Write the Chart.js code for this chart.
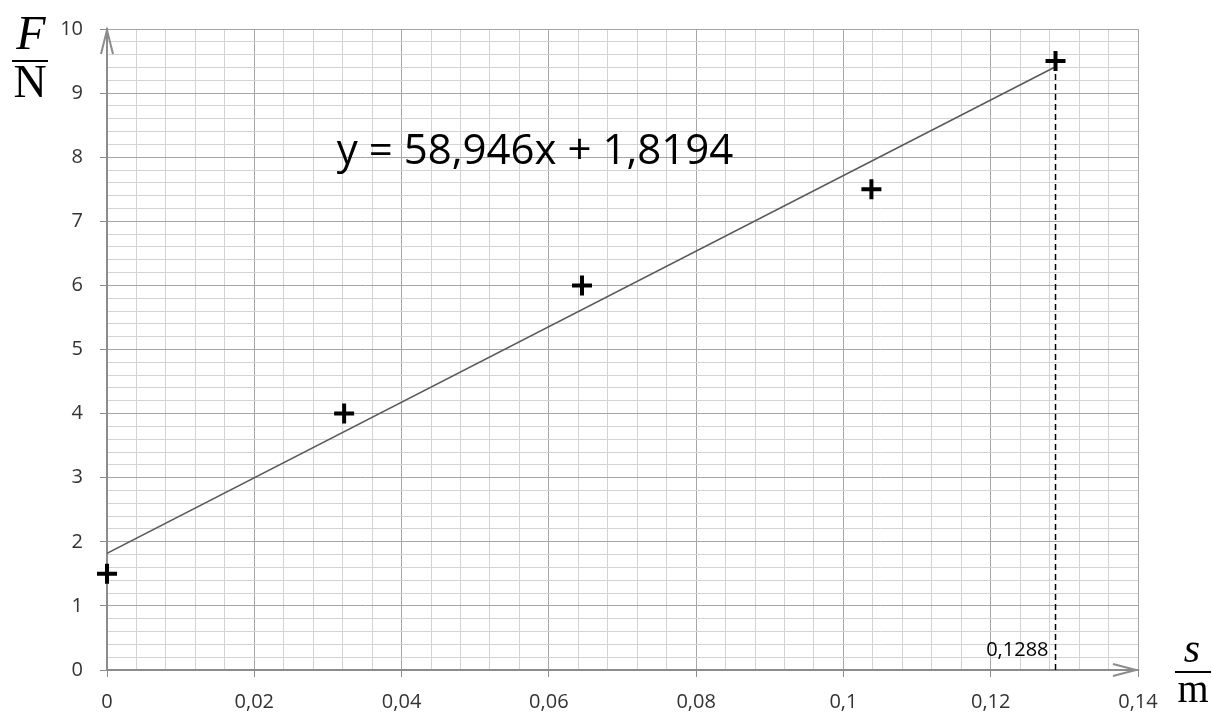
<!DOCTYPE html>
<html>
<head>
  <title>F over s</title>
  <script src="https://cdn.jsdelivr.net/npm/chart.js"></script>
  <style>
    html, body { margin: 0; padding: 0; background: #fff; }
  </style>
</head>
<body>
  <canvas id="forceChart" width="1212" height="713"></canvas>

  <script>
    // measured points (s in m, F in N)
    const pointsS = [0, 0.0322, 0.0645, 0.1038, 0.1288];
    const pointsF = [1.5, 4, 6, 7.5, 9.5];

    // linear trend line
    const trendS = [0, 0.1288];
    const trendF = [1.8194, 9.4116];

    // dashed marker at s = 0,1288
    const markS = [0.1288, 0.1288];
    const markF = [0, 9.5];

    const equationText = 'y = 58,946x + 1,8194';
    const markLabel = '0,1288';

    const xMajor = 0.02, xMinor = 0.004;
    const yMajor = 1, yMinor = 0.2;

    const sansFont = '"Open Sans", "Liberation Sans", Arial, sans-serif';
    const serifFont = '"Liberation Serif", "DejaVu Serif", serif';

    function isMajor(v, step) {
      const r = v / step;
      return Math.abs(r - Math.round(r)) < 1e-6;
    }

    function toXY(xs, ys) {
      return xs.map((x, i) => ({ x: x, y: ys[i] }));
    }

    const decorations = {
      id: 'decorations',
      afterDraw(chart) {
        const ctx = chart.ctx;
        const xs = chart.scales.x, ys = chart.scales.y;
        const left = xs.left, right = xs.right, top = ys.top, bottom = ys.bottom;
        ctx.save();

        // axis arrows
        ctx.strokeStyle = '#8c8c8c';
        ctx.lineWidth = 2;
        ctx.beginPath();
        ctx.moveTo(left - 6, top + 25);
        ctx.lineTo(left, top + 1);
        ctx.lineTo(left + 6, top + 25);
        ctx.moveTo(right - 25, bottom - 6);
        ctx.lineTo(right - 2, bottom);
        ctx.lineTo(right - 25, bottom + 6);
        ctx.stroke();

        // trend equation
        ctx.fillStyle = '#000';
        ctx.font = '42px ' + sansFont;
        ctx.textAlign = 'left';
        ctx.textBaseline = 'middle';
        ctx.fillText(equationText, xs.getPixelForValue(0.0312), ys.getPixelForValue(8.08));

        // marker label
        ctx.font = '20px ' + sansFont;
        ctx.textAlign = 'right';
        ctx.fillText(markLabel, xs.getPixelForValue(0.1288) - 7, ys.getPixelForValue(0.3));

        // axis titles as fractions
        ctx.textAlign = 'center';
        ctx.textBaseline = 'alphabetic';
        ctx.font = 'italic 48px ' + serifFont;
        ctx.fillText('F', 31, 49);
        ctx.font = '46px ' + serifFont;
        ctx.fillText('N', 30, 97);
        ctx.fillRect(12, 60, 36, 2);

        ctx.font = 'italic 42px ' + serifFont;
        ctx.fillText('s', 1192, 662);
        ctx.font = '40px ' + serifFont;
        ctx.fillText('m', 1193, 702);
        ctx.fillRect(1175, 671, 36, 2);

        ctx.restore();
      }
    };

    new Chart(document.getElementById('forceChart'), {
      type: 'scatter',
      data: {
        datasets: [
          {
            label: 'Trend',
            type: 'line',
            data: toXY(trendS, trendF),
            borderColor: '#595959',
            borderWidth: 1.5,
            pointRadius: 0,
            fill: false,
            order: 3
          },
          {
            label: 'Mark',
            type: 'line',
            data: toXY(markS, markF),
            borderColor: '#000',
            borderWidth: 1.5,
            borderDash: [6, 4],
            pointRadius: 0,
            fill: false,
            order: 2
          },
          {
            label: 'Messwerte',
            data: toXY(pointsS, pointsF),
            pointStyle: 'cross',
            pointRadius: 10,
            pointHoverRadius: 10,
            borderColor: '#000',
            backgroundColor: '#000',
            borderWidth: 4,
            clip: false,
            order: 1
          }
        ]
      },
      options: {
        responsive: false,
        animation: false,
        events: [],
        layout: {
          padding: { left: 0, right: 74, top: 22, bottom: 0 }
        },
        plugins: {
          legend: { display: false },
          tooltip: { enabled: false }
        },
        scales: {
          x: {
            type: 'linear',
            min: 0,
            max: 0.14,
            afterFit: scale => { scale.height = 43; },
            border: { color: '#8c8c8c', width: 2 },
            grid: {
              color: c => isMajor(c.tick.value, xMajor) ? '#a6a6a6' : '#d3d3d3',
              tickColor: c => isMajor(c.tick.value, xMajor) ? '#8c8c8c' : 'rgba(0,0,0,0)',
              tickLength: 7,
              lineWidth: 1
            },
            ticks: {
              stepSize: xMinor,
              autoSkip: false,
              maxRotation: 0,
              padding: 13,
              color: '#333',
              font: { family: sansFont, size: 20 },
              callback: v => isMajor(v, xMajor) ? String(Math.round(v * 100) / 100).replace('.', ',') : ''
            }
          },
          y: {
            type: 'linear',
            min: 0,
            max: 10,
            afterFit: scale => { scale.width = 107; },
            border: { color: '#8c8c8c', width: 2 },
            grid: {
              color: c => isMajor(c.tick.value, yMajor) ? '#a6a6a6' : '#d3d3d3',
              tickColor: c => isMajor(c.tick.value, yMajor) ? '#8c8c8c' : 'rgba(0,0,0,0)',
              tickLength: 7,
              lineWidth: 1
            },
            ticks: {
              stepSize: yMinor,
              autoSkip: false,
              padding: 17,
              color: '#333',
              font: { family: sansFont, size: 20 },
              callback: v => isMajor(v, yMajor) ? String(Math.round(v)) : ''
            }
          }
        }
      },
      plugins: [decorations]
    });
  </script>
</body>
</html>
